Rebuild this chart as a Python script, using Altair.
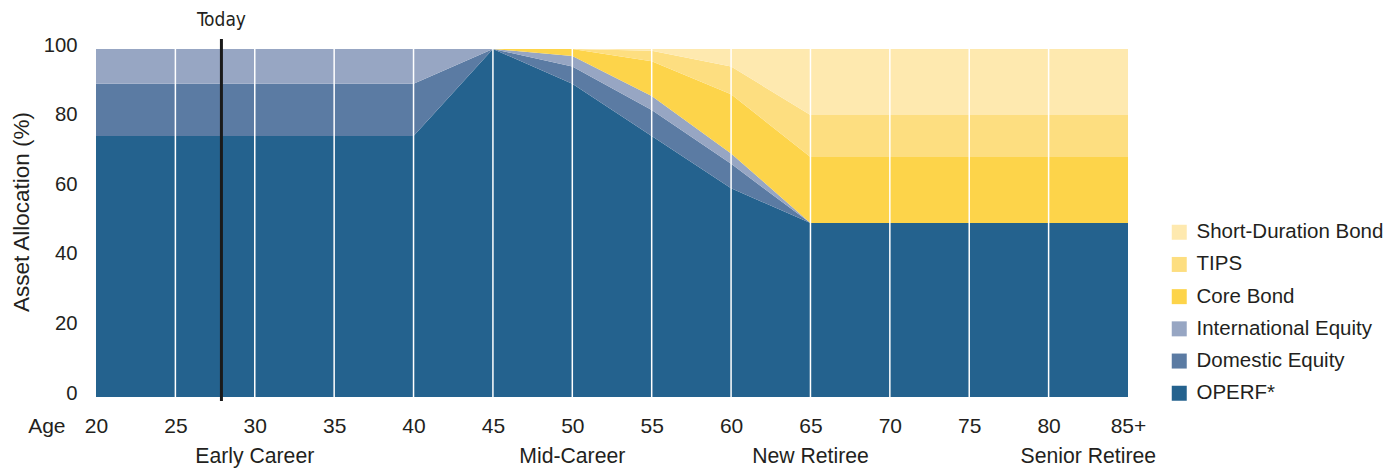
import altair as alt
import pandas as pd

# ---- data ----
ages = [20, 25, 30, 35, 40, 45, 50, 55, 60, 65, 70, 75, 80, 85]
operf = [75, 75, 75, 75, 75, 100, 90, 75, 60, 50, 50, 50, 50, 50]
domestic_equity = [15, 15, 15, 15, 15, 0, 5, 7.5, 7, 0, 0, 0, 0, 0]
international_equity = [10, 10, 10, 10, 10, 0, 3, 4, 3, 0, 0, 0, 0, 0]
core_bond = [0, 0, 0, 0, 0, 0, 2, 10, 17, 19, 19, 19, 19, 19]
tips = [0, 0, 0, 0, 0, 0, 0, 3, 8, 12, 12, 12, 12, 12]
short_duration_bond = [0, 0, 0, 0, 0, 0, 0, 0.5, 5, 19, 19, 19, 19, 19]

series_names = ["OPERF*", "Domestic Equity", "International Equity",
                "Core Bond", "TIPS", "Short-Duration Bond"]
series_values = [operf, domestic_equity, international_equity,
                 core_bond, tips, short_duration_bond]
series_colors = ["#24628e", "#5b7ba3", "#97a6c3", "#fdd44a", "#fdde80", "#fee9af"]

phase_names = ["Early Career", "Mid-Career", "New Retiree", "Senior Retiree"]
phase_ages = [30, 50, 65, 82.5]

today_age = [27.9]
today_label = ["Today"]

y_ticks = [0, 20, 40, 60, 80, 100]

# ---- tables ----
rows = []
for rank, (name, vals) in enumerate(zip(series_names, series_values)):
    for a, v in zip(ages, vals):
        rows.append({"age": a, "series": name, "value": v, "rank": rank})
df = pd.DataFrame(rows)
grid_df = pd.DataFrame({"age": ages[1:-1]})
phase_df = pd.DataFrame({"age": phase_ages, "phase": phase_names})
today_df = pd.DataFrame({"age": today_age, "label": today_label})

TEXT = "#231f20"
FONT = "Liberation Sans, Arial, Helvetica, sans-serif"
NARROW = "Liberation Sans Narrow, Arial Narrow, DejaVu Sans Condensed, Liberation Sans, sans-serif"

x_scale = alt.Scale(domain=[20, 85], nice=False, zero=False)
y_scale = alt.Scale(domain=[0, 100], nice=False)

x_axis = alt.Axis(
    values=ages, labelExpr="datum.value == 85 ? '85+' : datum.label",
    ticks=False, domain=False, grid=False,
    labelFont=FONT, labelFontSize=21, labelColor=TEXT,
    labelBaseline="alphabetic", labelPadding=35, labelFlush=False,
    title="Age", titleFont=FONT, titleFontSize=21, titleFontWeight="normal",
    titleColor=TEXT, titleX=-31, titleY=35, titleAlign="right",
    titleBaseline="alphabetic", titleAnchor=None,
)
y_axis = alt.Axis(
    values=y_ticks, ticks=False, domain=False, grid=False,
    labelFont=FONT, labelFontSize=20.3, labelColor=TEXT,
    labelBaseline="alphabetic", labelOffset=2, labelPadding=19,
    title="Asset Allocation (%)", titleFont=FONT, titleFontSize=22.5,
    titleFontWeight="normal", titleColor=TEXT, titleX=-68, titleY=162.5,
    titleAlign="center", titleBaseline="alphabetic", titleAngle=270,
)

legend = alt.Legend(
    orient="none", legendX=1073, legendY=173, title=None,
    symbolType="square", symbolSize=225, symbolStrokeWidth=0, symbolOpacity=1,
    labelFont=FONT, labelFontSize=20.5, labelColor=TEXT, labelOffset=7,
    labelLimit=0, rowPadding=11.2, padding=0,
)

areas = alt.Chart(df).mark_area(interpolate="linear", opacity=1).encode(
    x=alt.X("age:Q", scale=x_scale, axis=x_axis),
    y=alt.Y("value:Q", stack="zero", scale=y_scale, axis=y_axis),
    color=alt.Color("series:N",
                    scale=alt.Scale(domain=series_names[::-1], range=series_colors[::-1]),
                    legend=legend),
    order=alt.Order("rank:Q", sort="ascending"),
)

grid = alt.Chart(grid_df).mark_rule(color="white", strokeWidth=1.5).encode(
    x=alt.X("age:Q", scale=x_scale),
    y=alt.datum(0), y2=alt.datum(100),
)

today_rule = alt.Chart(today_df).mark_rule(color="#1a1a1a", strokeWidth=3).encode(
    x=alt.X("age:Q", scale=x_scale),
    y=alt.value(-10), y2=alt.value(352),
)
today_text = alt.Chart(today_df).mark_text(
    font=NARROW, fontSize=19, color=TEXT, baseline="alphabetic", align="center"
).encode(x=alt.X("age:Q", scale=x_scale), y=alt.value(-23), text="label:N")

phases = alt.Chart(phase_df).mark_text(
    font=FONT, fontSize=21.2, color=TEXT, baseline="alphabetic", align="center"
).encode(x=alt.X("age:Q", scale=x_scale), y=alt.value(414), text="phase:N")

chart = alt.layer(areas, grid, today_rule, today_text, phases).properties(
    width=1032, height=348,
    autosize=alt.AutoSizeParams(type="none"),
    padding={"left": 88, "top": 41, "right": 259, "bottom": 71},
    background="white",
).configure_view(stroke=None)

chart.save("out.html", embed_options={"renderer": "svg", "actions": False})
